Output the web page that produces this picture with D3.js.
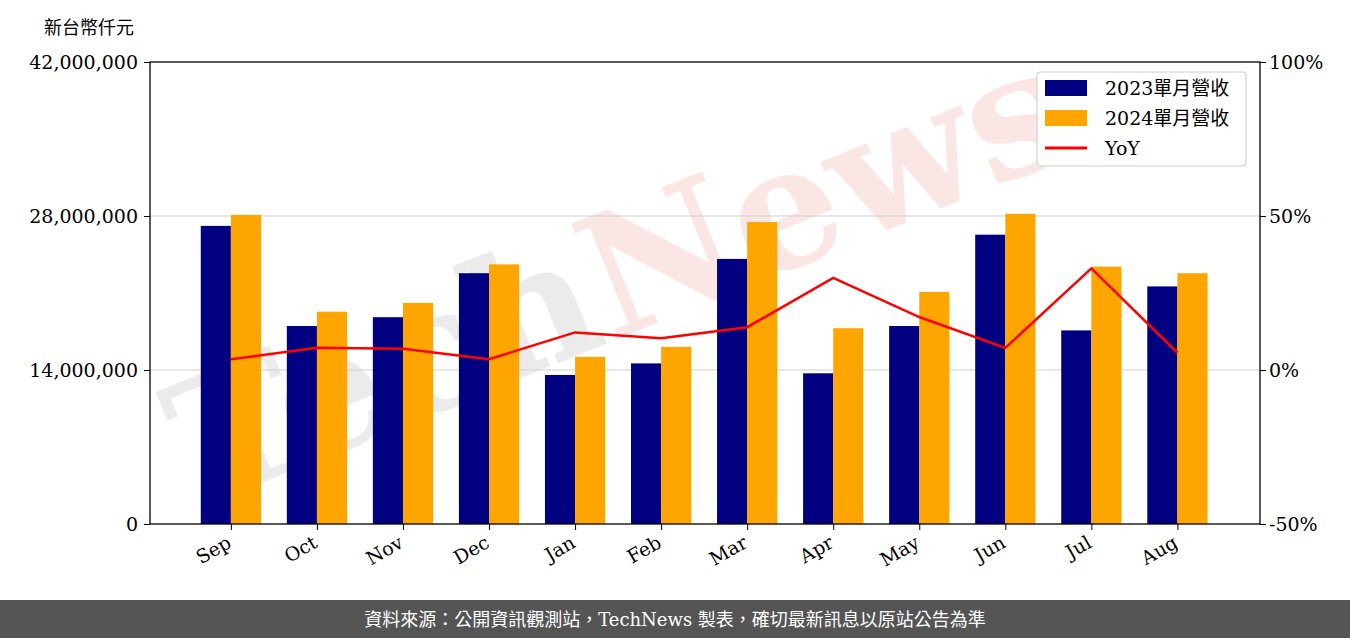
<!DOCTYPE html>
<html>
<head>
<meta charset="UTF-8">
<script src="https://cdn.jsdelivr.net/npm/d3@7"></script>
<style>
body { margin: 0; background: #fff; }
text { font-family: "DejaVu Serif", "Noto Sans CJK TC", serif; }
</style>
</head>
<body>
<svg id="chart" width="1350" height="638"></svg>
<script>
const months = ["Sep","Oct","Nov","Dec","Jan","Feb","Mar","Apr","May","Jun","Jul","Aug"];
const rev2023 = [27.1,18.0,18.8,22.8,13.55,14.6,24.1,13.7,18.0,26.3,17.6,21.6].map(v => v * 1e6);
const rev2024 = [28.1,19.3,20.1,23.6,15.2,16.1,27.45,17.8,21.1,28.2,23.4,22.8].map(v => v * 1e6);
const yoy = [3.5,7.2,6.9,3.5,12.2,10.3,13.9,29.9,17.2,7.2,33.0,5.6];
const leftTicks = [0, 14e6, 28e6, 42e6];
const rightTicks = [-50, 0, 50, 100];

const svg = d3.select("#chart");
const L = 150, R = 1260, T = 62, B = 524;

// watermark
const wm = svg.append("text")
  .attr("transform", "translate(640,330) rotate(-22)")
  .attr("text-anchor", "middle")
  .attr("font-family", "Lato, sans-serif")
  .attr("font-weight", "bold")
  .attr("font-size", 170);
wm.append("tspan").attr("fill", "#ebebeb").text("Tech");
wm.append("tspan").attr("fill", "#fbe6e6").text("News");

const x = d3.scaleLinear().domain([-0.94, 11.96]).range([L, R]);
const y = d3.scaleLinear().domain([0, 42e6]).range([B, T]);
const y2 = d3.scaleLinear().domain([-50, 100]).range([B, T]);
const bw = x(0.35) - x(0);

svg.append("g").selectAll("line").data([14e6, 28e6]).join("line")
  .attr("x1", L).attr("x2", R).attr("y1", d => y(d)).attr("y2", d => y(d))
  .attr("stroke", "#d0d0d0").attr("stroke-width", 1.2);

svg.append("g").selectAll("rect").data(rev2023).join("rect")
  .attr("x", (d, i) => x(i) - bw).attr("width", bw)
  .attr("y", d => y(d)).attr("height", d => B - y(d)).attr("fill", "#000080");
svg.append("g").selectAll("rect").data(rev2024).join("rect")
  .attr("x", (d, i) => x(i)).attr("width", bw)
  .attr("y", d => y(d)).attr("height", d => B - y(d)).attr("fill", "#ffa500");

svg.append("path").datum(yoy)
  .attr("d", d3.line().x((d, i) => x(i)).y(d => y2(d)))
  .attr("fill", "none").attr("stroke", "#ff0000").attr("stroke-width", 2.5);

svg.append("rect").attr("x", L).attr("y", T).attr("width", R - L).attr("height", B - T)
  .attr("fill", "none").attr("stroke", "#000").attr("stroke-width", 1.3);

const ax = svg.append("g").attr("transform", `translate(${L},0)`)
  .call(d3.axisLeft(y).tickValues(leftTicks).tickFormat(d3.format(",")).tickSizeOuter(0));
const ax2 = svg.append("g").attr("transform", `translate(${R},0)`)
  .call(d3.axisRight(y2).tickValues(rightTicks).tickFormat(d => d + "%").tickSizeOuter(0));
const axb = svg.append("g").attr("transform", `translate(0,${B})`)
  .call(d3.axisBottom(x).tickValues(d3.range(12)).tickFormat(i => months[i]).tickSizeOuter(0));
[ax, ax2, axb].forEach(g => {
  g.select(".domain").remove();
  g.selectAll("text").attr("font-size", 19).attr("fill", "#000")
    .attr("font-family", "DejaVu Serif, serif");
});
ax.selectAll("text").attr("x", -12);
axb.selectAll("text").attr("text-anchor", "end")
  .attr("transform", "translate(-6,10) rotate(-30)").attr("x", 0).attr("y", 0).attr("dy", "0.75em");

svg.append("text").attr("x", 44).attr("y", 34).attr("font-size", 18)
  .attr("font-family", "Noto Sans CJK TC, sans-serif").text("新台幣仟元");

// legend
const lg = svg.append("g");
lg.append("rect").attr("x", 1037).attr("y", 72).attr("width", 209).attr("height", 94)
  .attr("rx", 3).attr("fill", "#fff").attr("fill-opacity", 0.85).attr("stroke", "#ccc");
const items = [["2023單月營收", "#000080", "bar"], ["2024單月營收", "#ffa500", "bar"], ["YoY", "#ff0000", "line"]];
items.forEach((it, i) => {
  const cy = 88 + i * 30;
  if (it[2] === "bar") lg.append("rect").attr("x", 1045).attr("y", cy - 8).attr("width", 42).attr("height", 16).attr("fill", it[1]);
  else lg.append("line").attr("x1", 1045).attr("x2", 1087).attr("y1", cy).attr("y2", cy).attr("stroke", it[1]).attr("stroke-width", 3);
  lg.append("text").attr("x", 1105).attr("y", cy + 7).attr("font-size", 19).text(it[0]);
});

// footer
svg.append("rect").attr("x", 0).attr("y", 600).attr("width", 1350).attr("height", 38).attr("fill", "#555");
svg.append("text").attr("x", 675).attr("y", 626).attr("text-anchor", "middle")
  .attr("font-family", "Noto Sans CJK TC, sans-serif").attr("font-size", 18).attr("fill", "#fff")
  .text("資料來源：公開資訊觀測站，TechNews 製表，確切最新訊息以原站公告為準");
</script>
</body>
</html>
